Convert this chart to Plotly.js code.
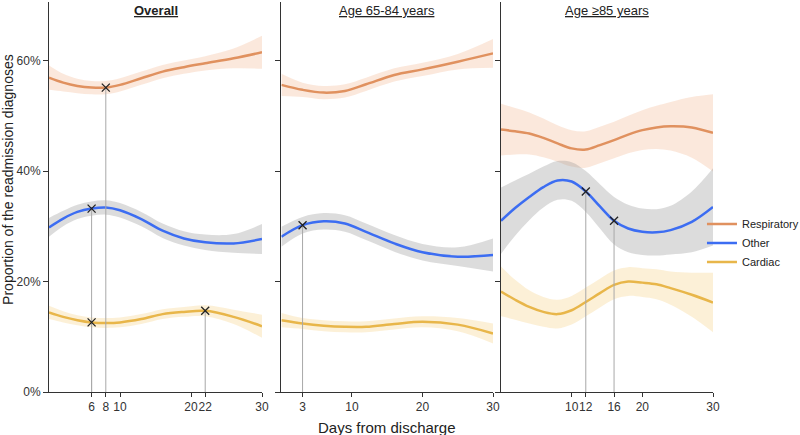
<!DOCTYPE html>
<html>
<head>
<meta charset="utf-8">
<script src="https://cdn.plot.ly/plotly-3.0.1.min.js"></script>
<style>
  body { margin: 0; background: #fff; }
  #plot { width: 800px; height: 435px; }
</style>
</head>
<body>
<div id="plot"></div>
<script>
// values in percent
var panelTitles = ['<u><b>Overall</b></u>', '<u>Age 65-84 years</u>', '<u>Age \u226585 years</u>'];
var seriesNames = ['Respiratory', 'Other', 'Cardiac'];
var yTickVals = [0, 20, 40, 60];
var yTickText = ['0%', '20%', '40%', '60%'];

// Overall
var days1 = [0, 2, 4, 6, 8, 10, 13, 16, 19, 22, 26, 30];
var resp1 = [56.9, 56.0, 55.4, 55.1, 55.1, 55.6, 56.8, 58.0, 58.8, 59.5, 60.4, 61.5];
var resp1Hi = [59.1, 57.6, 56.7, 56.3, 56.3, 56.8, 58.0, 59.2, 60.0, 60.8, 62.2, 64.5];
var resp1Lo = [54.7, 54.4, 54.1, 53.9, 53.9, 54.4, 55.6, 56.8, 57.6, 58.2, 58.6, 58.5];
var other1 = [29.8, 31.4, 32.6, 33.2, 33.4, 32.9, 31.3, 29.2, 27.8, 27.1, 26.9, 27.7];
var other1Hi = [31.5, 32.8, 33.9, 34.5, 34.7, 34.2, 32.6, 30.5, 29.1, 28.5, 28.6, 30.4];
var other1Lo = [28.1, 30.0, 31.3, 31.9, 32.1, 31.6, 30.0, 27.9, 26.5, 25.7, 25.2, 25.0];
var card1 = [14.4, 13.6, 13.0, 12.6, 12.5, 12.6, 13.2, 14.1, 14.5, 14.7, 13.6, 11.9];
var card1Hi = [15.6, 14.6, 13.9, 13.5, 13.4, 13.5, 14.1, 15.0, 15.4, 15.7, 14.9, 14.0];
var card1Lo = [13.2, 12.6, 12.1, 11.7, 11.6, 11.7, 12.3, 13.2, 13.6, 13.7, 12.3, 9.8];

// Age 65-84
var days2 = [0, 3, 6, 9, 12, 16, 20, 25, 30];
var resp2 = [55.6, 54.7, 54.2, 54.5, 55.7, 57.4, 58.4, 59.8, 61.3];
var resp2Hi = [57.6, 56.0, 55.4, 55.7, 56.9, 58.6, 59.6, 61.2, 63.9];
var resp2Lo = [53.6, 53.4, 53.0, 53.3, 54.5, 56.2, 57.2, 58.4, 58.7];
var other2 = [28.1, 30.2, 30.9, 30.5, 29.0, 26.9, 25.3, 24.5, 24.8];
var other2Hi = [29.9, 31.7, 32.4, 32.0, 30.5, 28.4, 26.8, 26.2, 27.8];
var other2Lo = [26.3, 28.7, 29.4, 29.0, 27.5, 25.4, 23.8, 22.8, 21.8];
var card2 = [13.0, 12.4, 12.0, 11.8, 11.8, 12.3, 12.7, 12.2, 10.6];
var card2Hi = [14.3, 13.4, 13.0, 12.8, 12.8, 13.3, 13.7, 13.4, 12.4];
var card2Lo = [11.7, 11.4, 11.0, 10.8, 10.8, 11.3, 11.7, 11.0, 8.8];

// Age >=85
var days3 = [0, 2, 4, 6, 8, 10, 12, 14, 16, 18, 20, 22, 24, 27, 30];
var resp3 = [47.5, 47.2, 46.8, 46.0, 45.0, 44.1, 43.9, 44.7, 45.6, 46.6, 47.4, 47.9, 48.1, 47.9, 46.9];
var resp3Hi = [52.2, 51.4, 50.6, 49.5, 48.3, 47.4, 47.2, 48.0, 48.9, 50.0, 51.0, 51.8, 52.5, 53.4, 53.9];
var resp3Lo = [42.8, 43.0, 43.0, 42.5, 41.7, 40.8, 40.6, 41.4, 42.3, 43.2, 43.8, 44.0, 43.7, 42.4, 39.9];
var other3 = [31.0, 33.3, 35.3, 37.1, 38.3, 38.1, 36.3, 33.6, 31.0, 29.6, 29.0, 28.9, 29.3, 30.8, 33.5];
var other3Hi = [37.0, 38.3, 39.5, 40.8, 41.8, 41.6, 40.0, 37.6, 35.3, 33.9, 33.2, 33.1, 33.7, 36.3, 40.5];
var other3Lo = [25.0, 28.3, 31.1, 33.4, 34.8, 34.6, 32.6, 29.6, 26.7, 25.3, 24.8, 24.7, 24.9, 25.3, 26.5];
var card3 = [18.2, 16.7, 15.4, 14.5, 14.1, 14.8, 16.3, 17.9, 19.4, 20.0, 19.8, 19.5, 18.8, 17.6, 16.2];
var card3Hi = [22.7, 20.3, 18.4, 17.2, 16.7, 17.4, 18.9, 20.5, 22.0, 22.6, 22.4, 22.2, 21.8, 21.6, 21.6];
var card3Lo = [13.7, 13.1, 12.4, 11.8, 11.5, 12.2, 13.7, 15.3, 16.8, 17.4, 17.2, 16.8, 15.8, 13.6, 10.8];

// marked points (change points)
var markDays1 = [6, 8, 6, 22];
var markVals1 = [33.2, 55.1, 12.6, 14.7];
var markDays2 = [3];
var markVals2 = [30.2];
var markDays3 = [12, 16];
var markVals3 = [36.3, 31.0];

var tickVals1 = [6, 8, 10, 20, 22, 30];
var tickVals2 = [3, 10, 20, 30];
var tickVals3 = [10, 12, 16, 20, 30];

var lineColors = ['#e0915f', '#3c6df2', '#e8b64a'];
var bandColors = ['rgba(240,172,128,0.28)', 'rgba(150,150,150,0.33)', 'rgba(245,200,110,0.28)'];

var data = [];

function addBand(xa, ya, days, lo, hi, i) {
  data.push({x: days, y: lo, xaxis: xa, yaxis: ya, type: 'scatter', mode: 'lines',
    line: {width: 0, shape: 'spline'}, hoverinfo: 'skip', showlegend: false});
  data.push({x: days, y: hi, xaxis: xa, yaxis: ya, type: 'scatter', mode: 'lines',
    line: {width: 0, shape: 'spline'}, fill: 'tonexty', fillcolor: bandColors[i],
    hoverinfo: 'skip', showlegend: false});
}

function addLine(xa, ya, days, vals, i, legend) {
  data.push({x: days, y: vals, xaxis: xa, yaxis: ya, type: 'scatter', mode: 'lines',
    name: seriesNames[i], legendgroup: seriesNames[i], showlegend: legend,
    line: {color: lineColors[i], width: 2.5, shape: 'spline'}});
}

function addMarks(xa, ya, mdays, mvals) {
  for (var k = 0; k < mdays.length; k++) {
    data.push({x: [mdays[k], mdays[k]], y: [0, mvals[k]], xaxis: xa, yaxis: ya,
      type: 'scatter', mode: 'lines', line: {color: '#a8a8a8', width: 1},
      hoverinfo: 'skip', showlegend: false});
  }
  data.push({x: mdays, y: mvals, xaxis: xa, yaxis: ya, type: 'scatter', mode: 'markers',
    marker: {symbol: 'x-thin', size: 8, line: {color: '#222', width: 1.3}},
    showlegend: false});
}

var panels = [
  ['x', 'y', days1, [resp1, other1, card1], [resp1Lo, other1Lo, card1Lo], [resp1Hi, other1Hi, card1Hi], markDays1, markVals1],
  ['x2', 'y2', days2, [resp2, other2, card2], [resp2Lo, other2Lo, card2Lo], [resp2Hi, other2Hi, card2Hi], markDays2, markVals2],
  ['x3', 'y3', days3, [resp3, other3, card3], [resp3Lo, other3Lo, card3Lo], [resp3Hi, other3Hi, card3Hi], markDays3, markVals3]
];

panels.forEach(function (p) {
  for (var i = 0; i < 3; i++) addBand(p[0], p[1], p[2], p[4][i], p[5][i], i);
});
panels.forEach(function (p, n) {
  for (var i = 0; i < 3; i++) addLine(p[0], p[1], p[2], p[3][i], i, n === 0);
});
panels.forEach(function (p) {
  addMarks(p[0], p[1], p[6], p[7]);
});

var tickFont = {family: 'Arial, Liberation Sans, sans-serif', size: 12, color: '#333'};

function xAxis(domain, ticks, anchor) {
  return {domain: domain, range: [0, 30], anchor: anchor, tickmode: 'array', tickvals: ticks,
    tickangle: 0, showgrid: false, zeroline: false, showline: true, linecolor: '#333', linewidth: 1,
    ticks: 'outside', ticklen: 4, tickcolor: '#333', tickfont: tickFont};
}
function yAxis(anchor, labels) {
  return {range: [0, 70.6], anchor: anchor, tickmode: 'array', tickvals: yTickVals,
    ticktext: yTickText, showticklabels: labels, showgrid: false, zeroline: false,
    showline: true, linecolor: '#333', linewidth: 1, ticks: 'outside', ticklen: 5,
    tickcolor: '#333', tickfont: tickFont};
}

var domains = [[0, 0.3208], [0.350, 0.6687], [0.6807, 1]];
var annotations = panelTitles.map(function (t, n) {
  return {text: t, xref: 'paper', yref: 'paper', x: (domains[n][0] + domains[n][1]) / 2,
    y: 0.979, xanchor: 'center', yanchor: 'middle', showarrow: false,
    font: {family: 'Arial, Liberation Sans, sans-serif', size: 13, color: '#222'}};
});
annotations.push({text: 'Days from discharge', xref: 'paper', yref: 'paper', x: 0.509, y: -0.09,
  xanchor: 'center', yanchor: 'middle', showarrow: false,
  font: {family: 'Arial, Liberation Sans, sans-serif', size: 15, color: '#222'}});
annotations.push({text: 'Proportion of the readmission diagnoses', xref: 'paper', yref: 'paper',
  x: -0.062, y: 0.546, textangle: -90, xanchor: 'center', yanchor: 'middle', showarrow: false,
  font: {family: 'Arial, Liberation Sans, sans-serif', size: 14, color: '#222'}});

var layout = {
  width: 800, height: 435,
  margin: {l: 49, r: 87, t: 2, b: 43, autoexpand: false},
  paper_bgcolor: '#fff', plot_bgcolor: '#fff',
  showlegend: true,
  legend: {x: 0.9834, y: 0.468, xanchor: 'left', yanchor: 'top', itemwidth: 30,
    font: {family: 'Arial, Liberation Sans, sans-serif', size: 11, color: '#222'},
    bgcolor: 'rgba(0,0,0,0)', tracegroupgap: 0},
  xaxis: xAxis(domains[0], tickVals1, 'y'),
  xaxis2: xAxis(domains[1], tickVals2, 'y2'),
  xaxis3: xAxis(domains[2], tickVals3, 'y3'),
  yaxis: yAxis('x', true),
  yaxis2: yAxis('x2', false),
  yaxis3: yAxis('x3', false),
  annotations: annotations
};

Plotly.newPlot('plot', data, layout, {displayModeBar: false, staticPlot: true});
</script>
</body>
</html>
